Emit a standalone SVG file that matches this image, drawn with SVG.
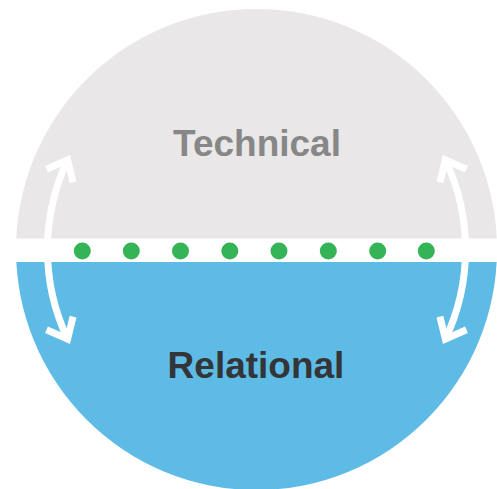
<svg xmlns="http://www.w3.org/2000/svg" width="497" height="489" viewBox="0 0 497 489">
  <defs>
    <style>
      .arrow { fill: none; stroke: #ffffff; stroke-width: 7; stroke-linecap: butt; stroke-linejoin: miter; stroke-miterlimit: 10; }
      .dot { fill: #35b457; }
      .label { font-family: "Liberation Sans", Arial, sans-serif; font-weight: bold; font-size: 37px; text-anchor: middle; }
    </style>
  </defs>
  <rect x="0" y="0" width="497" height="489" fill="#ffffff"/>
  <g id="relational">
    <path d="M16,249.5 A240.5,240.5 0 0 0 497,249.5 Z" fill="#5dbbe5"/>
    <text class="label" x="256" y="377.5" fill="#333538">Relational</text>
  </g>
  <g id="technical">
    <path d="M16,249.5 A240.5,240.5 0 0 1 497,249.5 Z" fill="#e9e7e8"/>
    <text class="label" x="257" y="156" fill="#878787">Technical</text>
  </g>
  <g id="band">
    <rect x="0" y="238.5" width="497" height="23.5" fill="#ffffff"/>
    <circle class="dot" cx="82.3" cy="251" r="8.5"/>
    <circle class="dot" cx="131.3" cy="251" r="8.5"/>
    <circle class="dot" cx="180.5" cy="251" r="8.5"/>
    <circle class="dot" cx="229.8" cy="251" r="8.5"/>
    <circle class="dot" cx="279" cy="251" r="8.5"/>
    <circle class="dot" cx="328.3" cy="251" r="8.5"/>
    <circle class="dot" cx="377.7" cy="251" r="8.5"/>
    <circle class="dot" cx="426.3" cy="251" r="8.5"/>
  </g>
  <g id="connectors">
    <path class="arrow" d="M67.6,160 A209,209 0 0 0 67.6,339"/>
    <path class="arrow" d="M46.5,169.3 L67.6,160 L73.1,182.3"/>
    <path class="arrow" d="M46.5,329.7 L67.6,339 L73.1,316.7"/>
    <path class="arrow" d="M445.4,160 A209,209 0 0 1 445.4,339"/>
    <path class="arrow" d="M466.5,169.3 L445.4,160 L439.9,182.3"/>
    <path class="arrow" d="M466.5,329.7 L445.4,339 L439.9,316.7"/>
  </g>
</svg>
